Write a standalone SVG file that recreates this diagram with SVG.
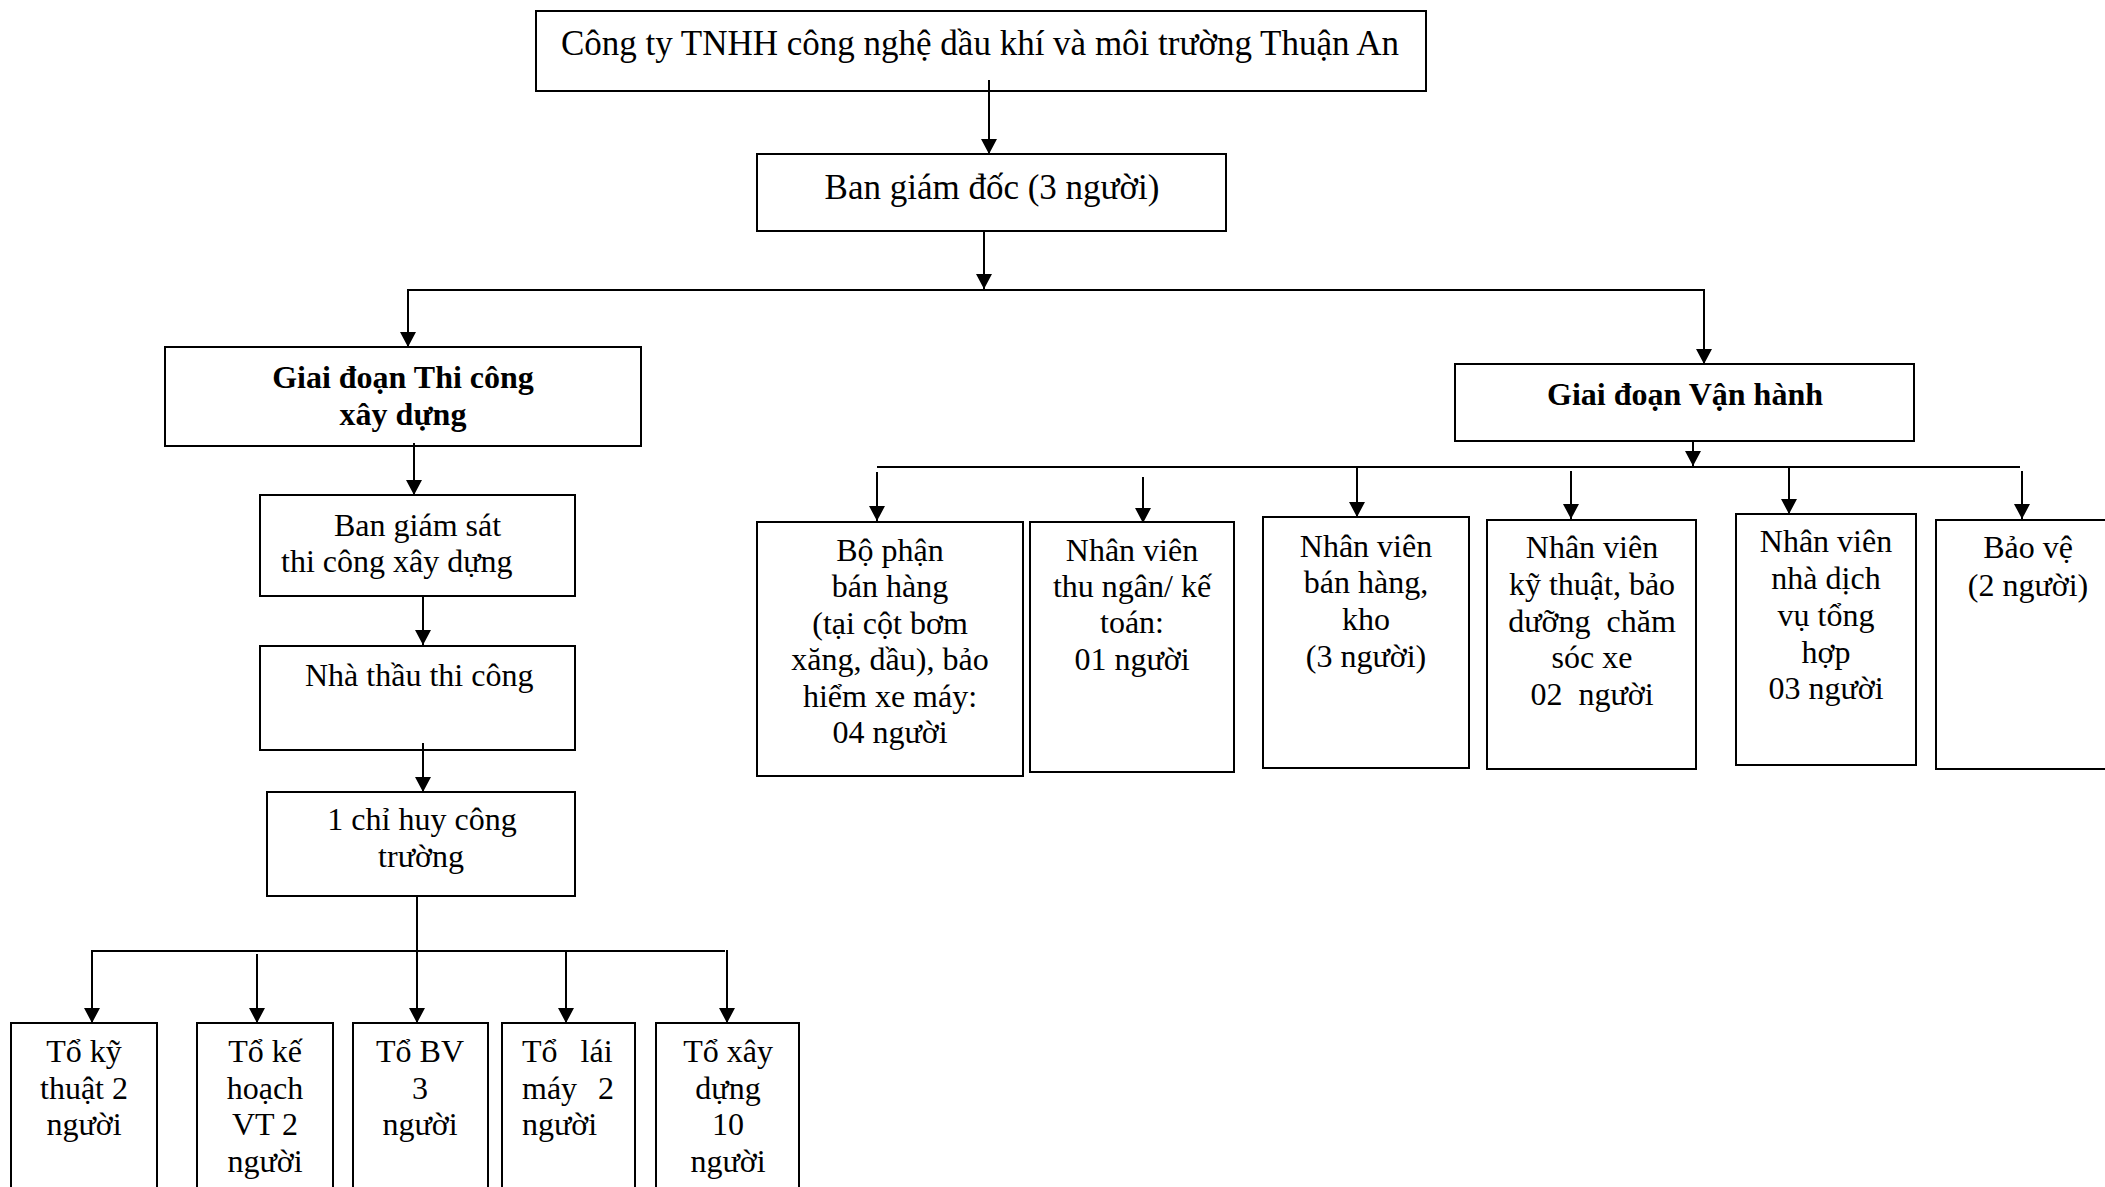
<svg xmlns="http://www.w3.org/2000/svg" width="2105" height="1187" viewBox="0 0 2105 1187">
<style>
.box{fill:#fff;stroke:#000;stroke-width:2}
text{font-family:"Liberation Serif","Times New Roman",serif;font-size:32px;fill:#000;text-anchor:middle}
.big{font-size:35px}
.b{font-weight:bold}
.st{text-anchor:start}
.c line{stroke:#000;stroke-width:2}
</style>
<defs>
<marker id="ah" markerUnits="userSpaceOnUse" markerWidth="15" markerHeight="16" viewBox="0 0 15 16" refX="15" refY="8" orient="auto">
<path d="M0,0 L15,8 L0,16 z" fill="#000"/>
</marker>
</defs>
<rect width="2105" height="1187" fill="#fff"/>

<g id="top"><rect class="box" x="536" y="11" width="890" height="80"/>
<text class="big" x="980" y="55">Công ty TNHH công nghệ dầu khí và môi trường Thuận An</text></g>

<g id="bgd"><rect class="box" x="757" y="154" width="469" height="77"/>
<text class="big" x="992" y="199">Ban giám đốc (3 người)</text></g>

<g id="thicong"><rect class="box" x="165" y="347" width="476" height="99"/>
<text class="b" x="403" y="388">Giai đoạn Thi công</text>
<text class="b" x="403" y="425">xây dựng</text></g>

<g id="vanhanh"><rect class="box" x="1455" y="364" width="459" height="77"/>
<text class="b" x="1685" y="405">Giai đoạn Vận hành</text></g>

<g id="bgs"><rect class="box" x="260" y="495" width="315" height="101"/>
<text class="st" x="334" y="536">Ban giám sát</text>
<text class="st" x="281" y="572">thi công xây dựng</text></g>

<g id="nhathau"><rect class="box" x="260" y="646" width="315" height="104"/>
<text class="st" x="305" y="686">Nhà thầu thi công</text></g>

<g id="chihuy"><rect class="box" x="267" y="792" width="308" height="104"/>
<text x="422" y="830">1 chỉ huy công</text>
<text x="421" y="867">trường</text></g>

<g id="bophan"><rect class="box" x="757" y="522" width="266" height="254"/>
<text x="890" y="561">Bộ phận</text>
<text x="890" y="597">bán hàng</text>
<text x="890" y="634">(tại cột bơm</text>
<text x="890" y="670">xăng, dầu), bảo</text>
<text x="890" y="707">hiểm xe máy:</text>
<text x="890" y="743">04 người</text></g>

<g id="thungan"><rect class="box" x="1030" y="522" width="204" height="250"/>
<text x="1132" y="561">Nhân viên</text>
<text x="1132" y="597">thu ngân/ kế</text>
<text x="1132" y="633">toán:</text>
<text x="1132" y="670">01 người</text></g>

<g id="banhang"><rect class="box" x="1263" y="517" width="206" height="251"/>
<text x="1366" y="557">Nhân viên</text>
<text x="1366" y="593">bán hàng,</text>
<text x="1366" y="630">kho</text>
<text x="1366" y="667">(3 người)</text></g>

<g id="kythuat"><rect class="box" x="1487" y="520" width="209" height="249"/>
<text x="1592" y="558">Nhân viên</text>
<text x="1592" y="595">kỹ thuật, bảo</text>
<text x="1592" y="632" xml:space="preserve" style="white-space:pre">dưỡng  chăm</text>
<text x="1592" y="668">sóc xe</text>
<text x="1592" y="705" xml:space="preserve" style="white-space:pre">02  người</text></g>

<g id="dichvu"><rect class="box" x="1736" y="514" width="180" height="251"/>
<text x="1826" y="552">Nhân viên</text>
<text x="1826" y="589">nhà dịch</text>
<text x="1826" y="626">vụ tổng</text>
<text x="1826" y="663">hợp</text>
<text x="1826" y="699">03 người</text></g>

<g id="baove"><rect class="box" x="1936" y="520" width="200" height="249"/>
<text x="2028" y="558">Bảo vệ</text>
<text x="2028" y="596">(2 người)</text></g>

<g id="to1"><rect class="box" x="11" y="1023" width="146" height="200"/>
<text x="84" y="1062">Tổ kỹ</text>
<text x="84" y="1099">thuật 2</text>
<text x="84" y="1135">người</text></g>

<g id="to2"><rect class="box" x="197" y="1023" width="136" height="200"/>
<text x="265" y="1062">Tổ kế</text>
<text x="265" y="1099">hoạch</text>
<text x="265" y="1135">VT 2</text>
<text x="265" y="1172">người</text></g>

<g id="to3"><rect class="box" x="353" y="1023" width="135" height="200"/>
<text x="420" y="1062">Tổ BV</text>
<text x="420" y="1099">3</text>
<text x="420" y="1135">người</text></g>

<g id="to4"><rect class="box" x="502" y="1023" width="133" height="200"/>
<text class="st" x="522" y="1062" word-spacing="15">Tổ lái</text>
<text class="st" x="522" y="1099" word-spacing="13">máy 2</text>
<text class="st" x="522" y="1135">người</text></g>

<g id="to5"><rect class="box" x="656" y="1023" width="143" height="200"/>
<text x="728" y="1062">Tổ xây</text>
<text x="728" y="1099">dựng</text>
<text x="728" y="1135">10</text>
<text x="728" y="1172">người</text></g>

<g id="connectors" class="c">
<line x1="989" y1="80" x2="989" y2="154" marker-end="url(#ah)"/>
<line x1="984" y1="232" x2="984" y2="289" marker-end="url(#ah)"/>
<line x1="408" y1="290" x2="1704" y2="290"/>
<line x1="408" y1="289" x2="408" y2="347" marker-end="url(#ah)"/>
<line x1="1704" y1="289" x2="1704" y2="364" marker-end="url(#ah)"/>
<line x1="414" y1="443" x2="414" y2="495" marker-end="url(#ah)"/>
<line x1="423" y1="596" x2="423" y2="645" marker-end="url(#ah)"/>
<line x1="423" y1="743" x2="423" y2="792" marker-end="url(#ah)"/>
<line x1="417" y1="896" x2="417" y2="1023" marker-end="url(#ah)"/>
<line x1="91" y1="951" x2="725" y2="951"/>
<line x1="92" y1="950" x2="92" y2="1023" marker-end="url(#ah)"/>
<line x1="257" y1="954" x2="257" y2="1023" marker-end="url(#ah)"/>
<line x1="566" y1="951" x2="566" y2="1023" marker-end="url(#ah)"/>
<line x1="727" y1="950" x2="727" y2="1023" marker-end="url(#ah)"/>
<line x1="1693" y1="442" x2="1693" y2="466" marker-end="url(#ah)"/>
<line x1="877" y1="467" x2="2020" y2="467"/>
<line x1="877" y1="472" x2="877" y2="521" marker-end="url(#ah)"/>
<line x1="1143" y1="477" x2="1143" y2="523" marker-end="url(#ah)"/>
<line x1="1357" y1="467" x2="1357" y2="517" marker-end="url(#ah)"/>
<line x1="1571" y1="471" x2="1571" y2="519" marker-end="url(#ah)"/>
<line x1="1789" y1="467" x2="1789" y2="514" marker-end="url(#ah)"/>
<line x1="2022" y1="471" x2="2022" y2="519" marker-end="url(#ah)"/>
</g>
</svg>
